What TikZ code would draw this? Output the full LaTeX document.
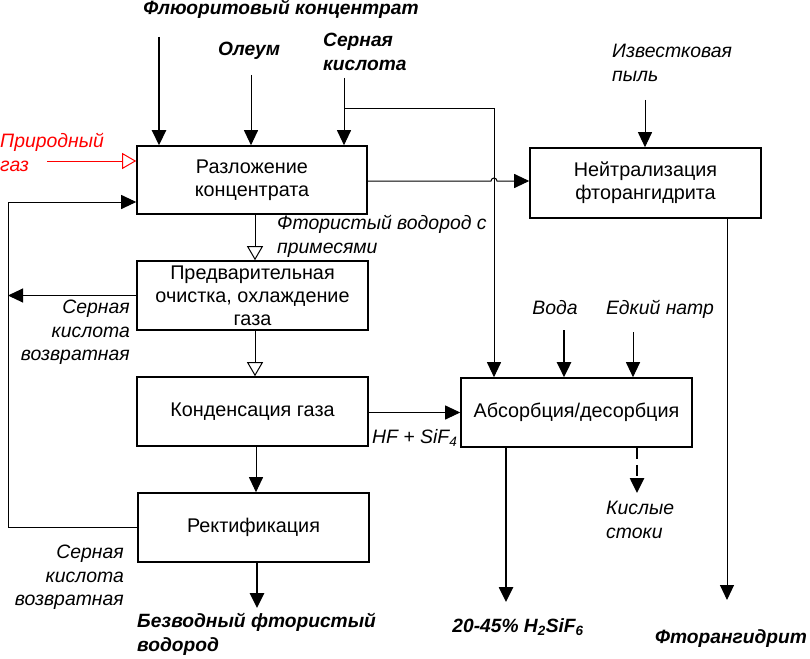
\documentclass[tikz,border=0pt]{standalone}
\usepackage{fontspec}
\setmainfont{Liberation Sans}
\usetikzlibrary{arrows.meta}
\begin{document}
\begin{tikzpicture}[x=1pt,y=-1pt,
  box/.style={draw, line width=1.6pt, minimum width=231pt, minimum height=69pt, inner sep=0pt, align=center, font=\fontsize{19.8}{22.8}\selectfont},
  thinl/.style={line width=1pt},
  fatl/.style={line width=2.6pt},
  arr/.style={-{Triangle[length=15pt,width=14pt]}},
  oarr/.style={-{Triangle[open,length=14pt,width=16pt,line width=1pt]}},
  lab/.style={inner sep=0pt, font=\fontsize{19.4}{23.5}\selectfont\itshape},
  blab/.style={inner sep=0pt, font=\fontsize{19.2}{24}\selectfont\bfseries\itshape}]
\useasboundingbox (0,0) rectangle (810,658);
% boxes
\node[box, minimum width=230pt, minimum height=68pt] (razl) at (252,180) {Разложение\\концентрата};
\node[box, minimum height=70pt] (neut) at (645.5,183) {Нейтрализация\\фторангидрита};
\node[box] (pred) at (252.5,295.5) {Предварительная\\очистка, охлаждение\\газа};
\node[box] (kond) at (252.5,411.5) {Конденсация газа};
\node[box] (rekt) at (253.5,527.5) {Ректификация};
\node[box] (abs) at (576.5,412.5) {Абсорбция/десорбция};
% labels
\node[blab, anchor=base] (lfl) at (281,15) {Флюоритовый концентрат};
\node[blab, anchor=base] (lol) at (249,56) {Олеум};
\node[blab, anchor=north west, align=left] (lsk) at (323,33) {Серная\\кислота};
\node[lab, anchor=north west, align=left, text=red] (lgas) at (0,133) {Природный\\газ};
\node[lab, anchor=north west, align=left] (lhf) at (277,215) {Фтористый водород с\\примесями};
\node[lab, anchor=north west, align=left] (lizv) at (612,44) {Известковая\\пыль};
\node[lab, anchor=north east, align=right] (lsv1) at (130,300) {Серная\\кислота\\возвратная};
\node[lab, anchor=north east, align=right] (lsv2) at (124,545) {Серная\\кислота\\возвратная};
\node[blab, anchor=north west, align=left] (lbez) at (137,613) {Безводный фтористый\\водород};
\node[lab, anchor=base west] (lsif) at (372,443) {HF + SiF\textsubscript{4}};
\node[lab, anchor=base] (lvoda) at (555,314) {Вода};
\node[lab, anchor=base] (lnatr) at (660,314) {Едкий натр};
\node[lab, anchor=north west, align=left] (lsto) at (606,501) {Кислые\\стоки};
\node[blab, anchor=base] (lh2) at (518,632) {20-45\% H\textsubscript{2}SiF\textsubscript{6}};
\node[blab, anchor=base] (lftor) at (731,643) {Фторангидрит};
% inputs to razl
\coordinate (cfl) at (159,37);
\coordinate (col) at (251,75);
\coordinate (csk) at (344,78);
\coordinate (cskb) at (344,109);
\coordinate (cskc) at (494,109);
\coordinate (cgas) at (47,161);
\coordinate (cret) at (8,202);
\draw[fatl, arr] (cfl) -- (cfl |- razl.north);
\draw[thinl, arr] (col) -- (col |- razl.north);
\draw[thinl, arr] (csk) -- (csk |- razl.north);
\draw[thinl, arr] (cskb) -- (cskc) -- (cskc |- abs.north);
\draw[thinl, red, oarr] (cgas) -- (cgas -| razl.west);
% return loop
\draw[thinl, arr] (rekt.west) -| (cret) -- (cret -| razl.west);
\draw[thinl, arr] (pred.west) -- (pred.west -| cret);
% razl -> neut with hop
\coordinate (hopa) at (491,181);
\draw[thinl, arr] (razl.east |- hopa) -- (hopa) arc[start angle=180, end angle=360, radius=3] -- (neut.west |- hopa);
% chain
\coordinate (cch) at (255,0);
\draw[thinl, oarr] (cch |- razl.south) -- (cch |- pred.north);
\draw[thinl, oarr] (cch |- pred.south) -- (cch |- kond.north);
\coordinate (cch2) at (256,0);
\draw[thinl, arr] (cch2 |- kond.south) -- (cch2 |- rekt.north);
\coordinate (cbez) at (257,608);
\draw[fatl, arr] (cbez |- rekt.south) -- (cbez);
% kond -> abs
\draw[thinl, arr] (kond.east |- abs.west) -- (abs.west);
% izv
\coordinate (cizv) at (645,100);
\draw[thinl, arr] (cizv) -- (cizv |- neut.north);
\coordinate (cftor) at (727,600);
\draw[thinl, arr] (cftor |- neut.south) -- (cftor);
% voda, natr
\coordinate (cvoda) at (564,330);
\draw[fatl, arr] (cvoda) -- (cvoda |- abs.north);
\coordinate (cnatr) at (633,332);
\draw[thinl, arr] (cnatr) -- (cnatr |- abs.north);
% abs outputs
\coordinate (ch2) at (506,602);
\draw[fatl, arr] (ch2 |- abs.south) -- (ch2);
\coordinate (csto) at (637,493);
\draw[fatl, dash pattern=on 11pt off 6pt, -{Triangle[length=15pt,width=14pt]}] (csto |- abs.south) -- (csto);
\end{tikzpicture}
\end{document}
